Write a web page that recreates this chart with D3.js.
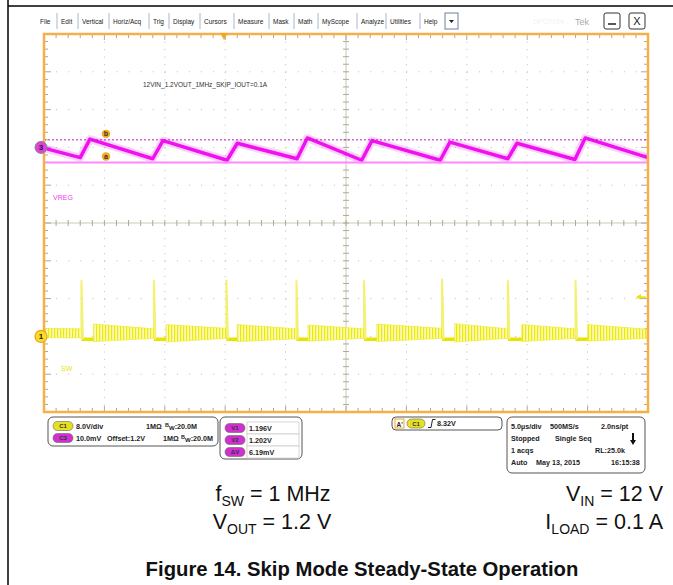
<!DOCTYPE html>
<html>
<head>
<meta charset="utf-8">
<script src="https://cdn.jsdelivr.net/npm/d3@7"></script>
<style>
  body { margin: 0; background: #fff; }
  text { font-family: "Liberation Sans", Arial, sans-serif; }
</style>
</head>
<body>
<script>
// Set Dimensions

const W = 673, H = 585;
const plot = { left: 44, right: 648, top: 34, bottom: 412 };

// Scope data (time in µs, voltage in V)

const timeRange = [-25, 25];          // 5.0µs/div x 10 div
const triggerTime = -10.1;
const triggerLevel = 8.32;

// CH3 - VREG (10mV/div, offset 1.2V)
const vregTime = [-25.0, -22.0, -21.2, -16.0, -15.15, -9.85, -9.0, -4.05, -3.2, 1.3, 2.15, 7.8, 8.6, 13.4, 14.15, 18.95, 19.8, 25.0];
const vregVolt = [1.1998, 1.1973, 1.2022, 1.1970, 1.2018, 1.1966, 1.2011, 1.1970, 1.2025, 1.1966, 1.2018, 1.1966, 1.2014, 1.1970, 1.2011, 1.1968, 1.2025, 1.1973];
const cursorV1 = 1.196;
const cursorV2 = 1.202;

// CH1 - SW (8V/div)
const swSpikeTime = [-21.9, -15.9, -9.9, -4.1, 1.5, 7.95, 13.4, 19.0];
const swSpikePeak = [11.9, 11.9, 12.0, 11.9, 11.9, 12.2, 11.9, 11.9];
const swIdleEnd = [-20.9, -14.9, -9.0, -3.15, 2.55, 9.0, 14.55, 20.0];
const swIdleLevel = -0.6;
const burstStart = [-25.0, -20.9, -14.9, -9.0, -3.15, 2.55, 9.0, 14.55, 20.0];
const burstEnd = [-21.9, -15.9, -9.9, -4.1, 1.5, 7.95, 13.4, 19.0, 25.0];
const burstHighStart = [1.7, 2.6, 2.5, 2.5, 2.4, 2.6, 2.7, 2.5, 2.5];
const burstHighEnd = [1.6, 1.6, 1.7, 1.6, 1.6, 1.7, 1.6, 1.6, 1.5];
const burstLowStart = [-0.3, -1.1, -1.2, -1.1, -1.0, -1.1, -1.2, -1.1, -1.0];
const burstLowEnd = [-0.3, -0.4, -0.4, -0.5, -0.4, -0.4, -0.4, -0.4, -0.4];

// UI text

const menuItems = ["File", "Edit", "Vertical", "Horiz/Acq", "Trig", "Display", "Cursors", "Measure", "Mask", "Math", "MyScope", "Analyze", "Utilities", "Help"];
const menuX = [40, 61, 82, 113, 153, 173, 204, 238, 273, 298, 322, 361, 390, 424];
const cursorLabels = ["V1", "V2", "ΔV"];
const cursorValues = ["1.196V", "1.202V", "6.19mV"];
const acqRows = [
  ["5.0µs/div", "500MS/s", "2.0ns/pt"],
  ["Stopped", "Single Seq", ""],
  ["1 acqs", "", "RL:25.0k"],
  ["Auto", "May 13, 2015", "16:15:38"]
];

const svg = d3.select("body")
  .append("svg")
  .attr("width", W)
  .attr("height", H);

// Scales

const x = d3.scaleLinear().domain(timeRange).range([plot.left, plot.right]);
const yDiv = d3.scaleLinear().domain([-5, 5]).range([plot.bottom, plot.top]);
const yVreg = d3.scaleLinear().domain([1.2 - 0.07, 1.2 + 0.03]).range([plot.bottom, plot.top]);
const ySw = d3.scaleLinear().domain([-16, 64]).range([plot.bottom, plot.top]);

// Page border

svg.append("line").attr("x1", 8).attr("x2", 8).attr("y1", 0).attr("y2", H)
  .attr("stroke", "#000").attr("stroke-width", 1.5);
svg.append("line").attr("x1", 8).attr("x2", W).attr("y1", 6).attr("y2", 6)
  .attr("stroke", "#000").attr("stroke-width", 1.5);

// Menu bar

const menu = svg.append("g");
menu.selectAll("text.menu")
  .data(menuItems)
  .enter()
  .append("text")
  .attr("x", (d, i) => menuX[i])
  .attr("y", 24)
  .attr("font-size", 6.5)
  .attr("fill", "#222")
  .text(d => d);
menu.selectAll("line.sep")
  .data(menuItems.slice(1))
  .enter()
  .append("line")
  .attr("x1", (d, i) => menuX[i + 1] - 4)
  .attr("x2", (d, i) => menuX[i + 1] - 4)
  .attr("y1", 13).attr("y2", 29)
  .attr("stroke", "#a8b8d8");
menu.append("rect").attr("x", 445).attr("y", 13).attr("width", 13).attr("height", 16)
  .attr("fill", "#fff").attr("stroke", "#7080a0");
menu.append("path").attr("d", "M449,20 L454,20 L451.5,23 Z").attr("fill", "#222");
menu.append("text").attr("x", 533).attr("y", 24).attr("font-size", 7).attr("fill", "#f0f2f8").text("DPO7104");
menu.append("text").attr("x", 575).attr("y", 25).attr("font-size", 9).attr("fill", "#aaa").text("Tek");
menu.append("rect").attr("x", 604).attr("y", 13).attr("width", 16).attr("height", 16).attr("rx", 2)
  .attr("fill", "#fff").attr("stroke", "#333");
menu.append("line").attr("x1", 608).attr("x2", 616).attr("y1", 24).attr("y2", 24).attr("stroke", "#222").attr("stroke-width", 1.5);
menu.append("rect").attr("x", 629).attr("y", 13).attr("width", 16).attr("height", 16).attr("rx", 2)
  .attr("fill", "#fff").attr("stroke", "#333");
menu.append("text").attr("x", 637).attr("y", 25).attr("text-anchor", "middle").attr("font-size", 11).attr("fill", "#222").text("X");

// Graticule

const grid = svg.append("g");
const majorT = d3.range(timeRange[0] + 5, timeRange[1], 5).filter(d => d !== 0);
const majorV = d3.range(-4, 5, 1).filter(d => d !== 0);
const minorT = d3.range(timeRange[0] + 1, timeRange[1], 1);
const minorV = d3.range(-4.8, 5, 0.2);

grid.selectAll("line.vgrid")
  .data(majorT)
  .enter()
  .append("line")
  .attr("x1", d => x(d)).attr("x2", d => x(d))
  .attr("y1", plot.top).attr("y2", plot.bottom)
  .attr("stroke", "#bbb").attr("stroke-dasharray", "1,6.56");
grid.selectAll("line.hgrid")
  .data(majorV)
  .enter()
  .append("line")
  .attr("x1", plot.left).attr("x2", plot.right)
  .attr("y1", d => yDiv(d)).attr("y2", d => yDiv(d))
  .attr("stroke", "#bbb").attr("stroke-dasharray", "1,11.08");

// center lines
grid.append("line").attr("x1", x(0)).attr("x2", x(0)).attr("y1", plot.top).attr("y2", plot.bottom)
  .attr("stroke", "#cdc8bc");
grid.append("line").attr("x1", plot.left).attr("x2", plot.right).attr("y1", yDiv(0)).attr("y2", yDiv(0))
  .attr("stroke", "#cdc8bc");

// minor ticks on center lines and edges
const tickColor = "#b0a890";
grid.selectAll("line.ctx")
  .data(minorT)
  .enter()
  .append("line")
  .attr("x1", d => x(d)).attr("x2", d => x(d))
  .attr("y1", yDiv(0) - 3).attr("y2", yDiv(0) + 3)
  .attr("stroke", tickColor);
grid.selectAll("line.cty")
  .data(minorV)
  .enter()
  .append("line")
  .attr("x1", x(0) - 3).attr("x2", x(0) + 3)
  .attr("y1", d => yDiv(d)).attr("y2", d => yDiv(d))
  .attr("stroke", tickColor);
grid.selectAll("line.ttop")
  .data(minorT)
  .enter()
  .append("line")
  .attr("x1", d => x(d)).attr("x2", d => x(d))
  .attr("y1", plot.top).attr("y2", d => plot.top + (Math.abs(d % 5) < 1e-6 ? 6 : 4))
  .attr("stroke", tickColor);
grid.selectAll("line.tbot")
  .data(minorT)
  .enter()
  .append("line")
  .attr("x1", d => x(d)).attr("x2", d => x(d))
  .attr("y1", plot.bottom).attr("y2", d => plot.bottom - (Math.abs(d % 5) < 1e-6 ? 6 : 4))
  .attr("stroke", tickColor);
grid.selectAll("line.tleft")
  .data(minorV)
  .enter()
  .append("line")
  .attr("x1", plot.left)
  .attr("x2", d => plot.left + (Math.abs(d - Math.round(d)) < 1e-6 ? 7 : 4))
  .attr("y1", d => yDiv(d)).attr("y2", d => yDiv(d))
  .attr("stroke", tickColor);
grid.selectAll("line.tright")
  .data(minorV)
  .enter()
  .append("line")
  .attr("x1", plot.right)
  .attr("x2", d => plot.right - (Math.abs(d - Math.round(d)) < 1e-6 ? 7 : 4))
  .attr("y1", d => yDiv(d)).attr("y2", d => yDiv(d))
  .attr("stroke", tickColor);

// Stripe pattern for the switching ring

const defs = svg.append("defs");
const pat = defs.append("pattern").attr("id", "ring")
  .attr("width", 3).attr("height", 4).attr("patternUnits", "userSpaceOnUse");
pat.append("rect").attr("width", 3).attr("height", 4).attr("fill", "#fbfab8");
pat.append("rect").attr("width", 1.2).attr("height", 4).attr("fill", "#ecea00");

// CH1 SW trace

const sw = svg.append("g");
const bursts = burstStart.map((s, i) => [
  { t: s, hi: burstHighStart[i], lo: burstLowStart[i] },
  { t: burstEnd[i], hi: burstHighEnd[i], lo: burstLowEnd[i] }
]);
const ringArea = d3.area()
  .x(d => x(d.t))
  .y0(d => ySw(d.lo))
  .y1(d => ySw(d.hi));
sw.selectAll("path.burst")
  .data(bursts)
  .enter()
  .append("path")
  .attr("d", ringArea)
  .attr("fill", "url(#ring)")
  .attr("stroke", "#efed30")
  .attr("stroke-width", 0.7);

sw.selectAll("line.idle")
  .data(swSpikeTime)
  .enter()
  .append("line")
  .attr("x1", d => x(d)).attr("x2", (d, i) => x(swIdleEnd[i]))
  .attr("y1", ySw(swIdleLevel)).attr("y2", ySw(swIdleLevel))
  .attr("stroke", "#e8e400").attr("stroke-width", 3.5);

sw.selectAll("path.spike")
  .data(swSpikeTime)
  .enter()
  .append("path")
  .attr("d", (d, i) => d3.line()([
    [x(d), ySw(burstHighEnd[i])],
    [x(d), ySw(swSpikePeak[i])],
    [x(d) + 1.5, ySw(swIdleLevel)]
  ]))
  .attr("fill", "none")
  .attr("stroke", "#f4f070")
  .attr("stroke-width", 2);

// CH3 VREG trace

const vreg = vregTime.map((t, i) => ({ t: t, v: vregVolt[i] }));
const vline = d3.line().x(d => x(d.t)).y(d => yVreg(d.v));
svg.append("path").datum(vreg)
  .attr("d", vline).attr("fill", "none")
  .attr("stroke", "#f070f0").attr("stroke-width", 8).attr("stroke-opacity", 0.3)
  .attr("stroke-linejoin", "round");
svg.append("path").datum(vreg)
  .attr("d", vline).attr("fill", "none")
  .attr("stroke", "#f010f0").attr("stroke-width", 3.5)
  .attr("stroke-linejoin", "round");

// Cursors

svg.append("line")
  .attr("x1", plot.left).attr("x2", plot.right)
  .attr("y1", yVreg(cursorV2)).attr("y2", yVreg(cursorV2))
  .attr("stroke", "#c020c0").attr("stroke-dasharray", "2,2");
svg.append("line")
  .attr("x1", plot.left).attr("x2", plot.right)
  .attr("y1", yVreg(cursorV1)).attr("y2", yVreg(cursorV1))
  .attr("stroke", "#ff88ff").attr("stroke-width", 2);

[["b", cursorV2], ["a", cursorV1]].forEach(c => {
  const cy = yVreg(c[1]) - 6;
  svg.append("circle").attr("cx", 106).attr("cy", cy).attr("r", 4.2)
    .attr("fill", "#f5a623");
  svg.append("text").attr("x", 106).attr("y", cy + 2.5).attr("text-anchor", "middle")
    .attr("font-size", 7).attr("font-weight", "bold").attr("fill", "#333").text(c[0]);
});

// Plot frame

svg.append("rect")
  .attr("x", plot.left).attr("y", plot.top)
  .attr("width", plot.right - plot.left).attr("height", plot.bottom - plot.top)
  .attr("fill", "none").attr("stroke", "#f5b04a").attr("stroke-width", 2.5);

// Labels inside the plot

svg.append("text").attr("x", 143).attr("y", 87).attr("font-size", 6.5).attr("fill", "#333")
  .text("12VIN_1.2VOUT_1MHz_SKIP_IOUT=0.1A");
svg.append("text").attr("x", 53).attr("y", 200).attr("font-size", 7).attr("fill", "#f040f0").text("VREG");
svg.append("text").attr("x", 61).attr("y", 371).attr("font-size", 7).attr("fill", "#e8e400").text("SW");

// Channel markers

svg.append("circle").attr("cx", 41).attr("cy", yVreg(1.2)).attr("r", 6)
  .attr("fill", "#e040e0").attr("stroke", "#888").attr("stroke-width", 1);
svg.append("text").attr("x", 41).attr("y", yVreg(1.2) + 3).attr("text-anchor", "middle")
  .attr("font-size", 8).attr("font-weight", "bold").attr("fill", "#222").text("3");
svg.append("circle").attr("cx", 41).attr("cy", ySw(0)).attr("r", 6)
  .attr("fill", "#f8e020").attr("stroke", "#f0a020").attr("stroke-width", 1.2);
svg.append("text").attr("x", 41).attr("y", ySw(0) + 3).attr("text-anchor", "middle")
  .attr("font-size", 8).attr("font-weight", "bold").attr("fill", "#222").text("1");

// Trigger markers

const tx = x(triggerTime);
svg.append("path").attr("d", `M${tx - 4},${plot.top - 1} L${tx + 4},${plot.top - 1} L${tx},${plot.top + 6} Z`)
  .attr("fill", "#f5a623");
const ty = ySw(triggerLevel);
svg.append("path").attr("d", `M${plot.right - 12},${ty} L${plot.right - 7},${ty - 3} L${plot.right - 7},${ty + 3} Z`)
  .attr("fill", "#e8e400");
svg.append("line").attr("x1", plot.right - 8).attr("x2", plot.right - 2).attr("y1", ty).attr("y2", ty)
  .attr("stroke", "#e8e400").attr("stroke-width", 1.5);

// Info panels

function pill(g, cx, cy, label, fill, w) {
  g.append("rect").attr("x", cx - w / 2).attr("y", cy - 4.5).attr("width", w).attr("height", 9)
    .attr("rx", 4.5).attr("fill", fill).attr("stroke", "#666").attr("stroke-width", 0.6);
  g.append("text").attr("x", cx).attr("y", cy + 2.2).attr("text-anchor", "middle")
    .attr("font-size", 6).attr("font-weight", "bold").attr("fill", "#333").text(label);
}

function boldText(g, xx, yy, s) {
  return g.append("text").attr("x", xx).attr("y", yy).attr("font-size", 7.2)
    .attr("font-weight", "bold").attr("fill", "#222").text(s);
}

function bwText(g, xx, yy) {
  const t = g.append("text").attr("x", xx).attr("y", yy).attr("font-size", 7.2)
    .attr("font-weight", "bold").attr("fill", "#222");
  t.append("tspan").attr("font-size", 5.5).attr("dy", -2).text("B");
  t.append("tspan").attr("font-size", 6).attr("dy", 3).text("W");
  t.append("tspan").attr("dy", -1).text(":20.0M");
}

const p = svg.append("g");
p.append("rect").attr("x", 48).attr("y", 417).attr("width", 170).attr("height", 29).attr("rx", 5)
  .attr("fill", "#fff").attr("stroke", "#555");
pill(p, 63, 426, "C1", "#e6e020", 20);
boldText(p, 76, 428.5, "8.0V/div");
boldText(p, 146, 428.5, "1MΩ");
bwText(p, 165, 428.5);
pill(p, 63, 438, "C3", "#d030d0", 20);
boldText(p, 76, 440.5, "10.0mV");
boldText(p, 107, 440.5, "Offset:1.2V");
boldText(p, 163, 440.5, "1MΩ");
bwText(p, 181, 440.5);

p.append("rect").attr("x", 220).attr("y", 417).attr("width", 82).attr("height", 42).attr("rx", 5)
  .attr("fill", "#fff").attr("stroke", "#555");
p.selectAll("rect.cell")
  .data(cursorValues)
  .enter()
  .append("rect")
  .attr("x", 247).attr("y", (d, i) => 422 + i * 12).attr("width", 52).attr("height", 12)
  .attr("fill", "#fff").attr("stroke", "#ccc").attr("stroke-width", 0.8);
cursorLabels.forEach((l, i) => {
  pill(p, 235, 428 + i * 12, l, "#d030d0", 20);
  boldText(p, 249, 430.5 + i * 12, cursorValues[i]);
});

p.append("rect").attr("x", 392).attr("y", 417).attr("width", 110).attr("height", 13).attr("rx", 4)
  .attr("fill", "#fff").attr("stroke", "#555");
p.append("rect").attr("x", 395).attr("y", 419).attr("width", 9).attr("height", 9)
  .attr("fill", "#fff").attr("stroke", "#f5a623");
p.append("text").attr("x", 396.5).attr("y", 426.5).attr("font-size", 6.5).attr("font-weight", "bold").attr("fill", "#222").text("A'");
pill(p, 416, 423.5, "C1", "#e6e020", 18);
p.append("path").attr("d", "M428,427.5 L431,427.5 L432.5,419.5 L435.5,419.5").attr("fill", "none")
  .attr("stroke", "#222").attr("stroke-width", 1);
boldText(p, 437, 426, "8.32V");

p.append("rect").attr("x", 507).attr("y", 417).attr("width", 138).attr("height", 56).attr("rx", 5)
  .attr("fill", "#fff").attr("stroke", "#555");
const colX = [[511, 550, 601], [511, 555, 0], [511, 0, 595], [511, 536, 611]];
acqRows.forEach((row, r) => {
  row.forEach((s, c) => {
    if (s) boldText(p, colX[r][c], 429 + r * 12, s);
  });
});
p.append("line").attr("x1", 633).attr("x2", 633).attr("y1", 433).attr("y2", 441)
  .attr("stroke", "#111").attr("stroke-width", 2);
p.append("path").attr("d", "M630,440 L636,440 L633,445 Z").attr("fill", "#111");

// Caption

const cap = svg.append("g").attr("font-size", 21.5).attr("fill", "#111");
function subText(xx, yy, anchor, main, sub, rest) {
  const t = cap.append("text").attr("x", xx).attr("y", yy).attr("text-anchor", anchor);
  t.append("tspan").text(main);
  t.append("tspan").attr("font-size", 14).attr("dy", 5).text(sub);
  t.append("tspan").attr("dy", -5).text(rest);
}
subText(273, 501, "middle", "f", "SW", " = 1 MHz");
subText(272, 529, "middle", "V", "OUT", " = 1.2 V");
subText(663, 501, "end", "V", "IN", " = 12 V");
subText(663, 529, "end", "I", "LOAD", " = 0.1 A");

svg.append("text").attr("x", 362).attr("y", 576).attr("text-anchor", "middle")
  .attr("font-size", 20.3).attr("font-weight", "bold").attr("fill", "#111")
  .text("Figure 14. Skip Mode Steady-State Operation");
</script>
</body>
</html>
